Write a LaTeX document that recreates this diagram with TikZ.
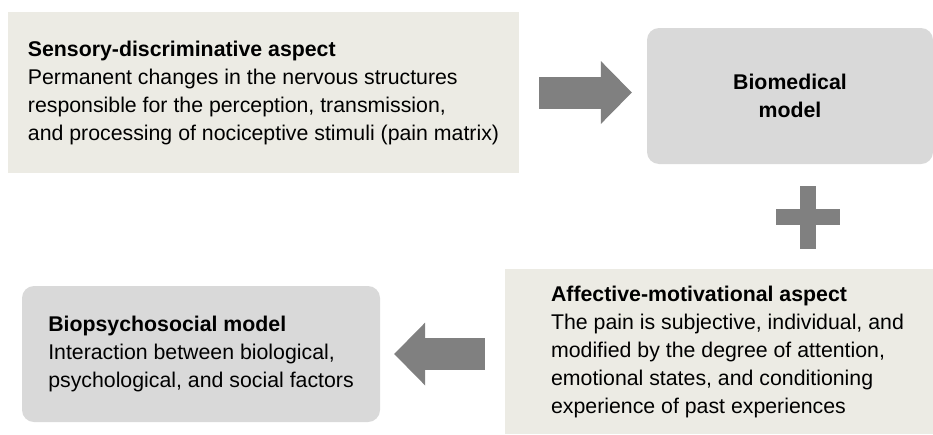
\documentclass[tikz,border=0pt]{standalone}
\usepackage{fontspec}
\setmainfont{Liberation Sans}
\usetikzlibrary{arrows.meta}

\definecolor{aspectbeige}{HTML}{ECEBE4}
\definecolor{modelgray}{HTML}{D9D9D9}
\definecolor{arrowgray}{HTML}{808080}

\begin{document}
\begin{tikzpicture}[x=1pt, y=-1pt,
    aspect/.style={rectangle, fill=aspectbeige, align=left,
                   font=\fontsize{21.3}{28}\selectfont},
    model/.style={rectangle, rounded corners=12pt, fill=modelgray,
                  font=\fontsize{21.3}{28}\selectfont},
    blockarrow/.style={draw=arrowgray, line width=32pt,
                       -{Triangle[length=31pt, width=63pt, line width=0pt]}}]
    \useasboundingbox (0,0) rectangle (933,434);

    % Sensory-discriminative aspect

    \node (sensory) [aspect, minimum width=511pt, minimum height=161pt]
          at (263.5,92.5)
          {\textbf{Sensory-discriminative aspect} \\
           Permanent changes in the nervous structures \\
           responsible for the perception, transmission, \\
           and processing of nociceptive stimuli (pain matrix)};

    % Biomedical model

    \node (biomedical) [model, align=center, minimum width=286pt,
                        minimum height=136pt]
          at (790,96) {\textbf{Biomedical} \\ \textbf{model}};
    \draw[blockarrow, shorten <=20pt, shorten >=15pt]
          (sensory.east) -- (sensory.east -| biomedical.west);

    % Plus sign

    \coordinate (plus) at (808,217);
    \fill[arrowgray] ([xshift=-32pt, yshift=-8pt]plus)
          rectangle ([xshift=32pt, yshift=8pt]plus);
    \fill[arrowgray] ([xshift=-8pt, yshift=-31.5pt]plus)
          rectangle ([xshift=8pt, yshift=31.5pt]plus);

    % Affective-motivational aspect

    \node (affective) [aspect, minimum width=445pt, minimum height=165pt]
          at (727.5,351.5)
          {\textbf{Affective-motivational aspect} \\
           The pain is subjective, individual, and \\
           modified by the degree of attention, \\
           emotional states, and conditioning \\
           experience of past experiences};

    % Biopsychosocial model

    \node (biopsycho) [model, align=left, minimum width=358pt,
                       minimum height=136pt]
          at (201,354)
          {\textbf{Biopsychosocial model} \\
           Interaction between biological, \\
           psychological, and social factors};
    \draw[blockarrow, shorten <=20pt, shorten >=14pt]
          (affective.west |- biopsycho.east) -- (biopsycho.east);
\end{tikzpicture}
\end{document}
